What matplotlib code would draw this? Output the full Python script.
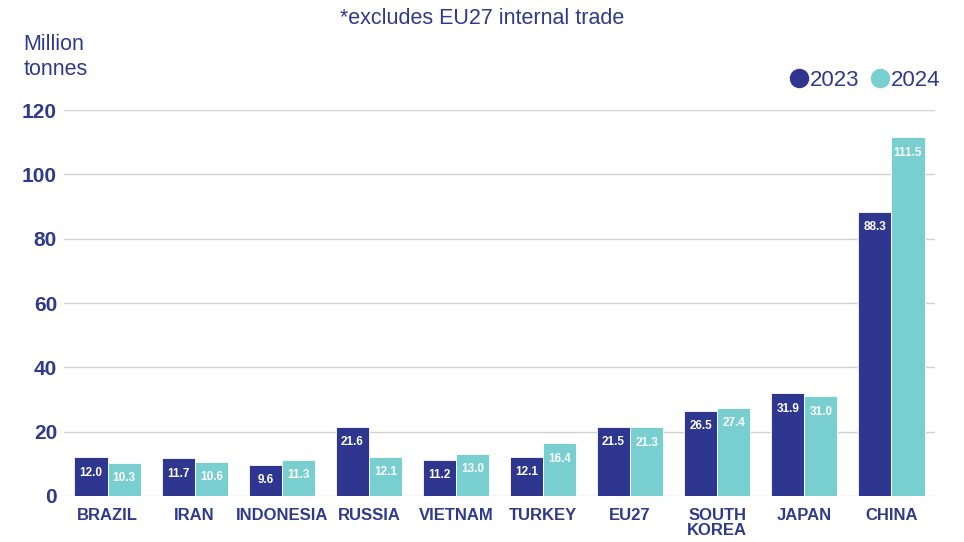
import matplotlib.pyplot as plt
from matplotlib.lines import Line2D
import numpy as np

plt.rcParams['font.family'] = ['Liberation Sans', 'DejaVu Sans']

# data
countries = ["BRAZIL", "IRAN", "INDONESIA", "RUSSIA", "VIETNAM", "TURKEY",
             "EU27", "SOUTH\nKOREA", "JAPAN", "CHINA"]
values_2023 = [12.0, 11.7, 9.6, 21.6, 11.2, 12.1, 21.5, 26.5, 31.9, 88.3]
values_2024 = [10.3, 10.6, 11.3, 12.1, 13.0, 16.4, 21.3, 27.4, 31.0, 111.5]
years = ["2023", "2024"]
y_ticks = [0, 20, 40, 60, 80, 100, 120]

navy = "#2E3690"
teal = "#79CFD0"
text_col = "#2E3A8C"

fig = plt.figure(figsize=(9.64, 5.42), dpi=100)
ax = fig.add_axes([0.0664, 0.0849, 0.9035, 0.712])

x = np.arange(len(countries))
w = 0.38
bars1 = ax.bar(x - w / 2, values_2023, width=w, color=navy,
               edgecolor="white", linewidth=0.6, zorder=3)
bars2 = ax.bar(x + w / 2, values_2024, width=w, color=teal,
               edgecolor="white", linewidth=0.6, zorder=3)

for bars, vals in ((bars1, values_2023), (bars2, values_2024)):
    for b, v in zip(bars, vals):
        ax.annotate(f"{v:.1f}", (b.get_x() + b.get_width() / 2, v),
                    xytext=(0, -11), textcoords="offset points",
                    ha="center", va="center", color="white",
                    fontsize=8.5, fontweight="bold", zorder=4)

ax.set_xlim(-0.5, 9.5)
ax.set_ylim(0, 120)
ax.set_yticks(y_ticks)
ax.set_xticks(x)
ax.set_xticklabels(countries, linespacing=1.0)
ax.tick_params(axis="y", length=0, pad=5, labelsize=15, labelcolor=text_col)
ax.tick_params(axis="x", length=0, pad=9, labelsize=12, labelcolor=text_col)
for lbl in ax.get_xticklabels() + ax.get_yticklabels():
    lbl.set_fontweight("bold")
for lbl in ax.get_xticklabels():
    lbl.set_verticalalignment("top")

ax.grid(axis="y", color="#D0D0D0", linewidth=1, zorder=0)
for s in ax.spines.values():
    s.set_visible(False)

fig.text(0.5, 0.966, "*excludes EU27 internal trade", ha="center", va="center",
         fontsize=15.5, color=text_col)
fig.text(0.024, 0.895, "Million\ntonnes", ha="left", va="center",
         fontsize=15.5, color=text_col, linespacing=1.2)

handles = [Line2D([], [], marker="o", linestyle="", markersize=13,
                  markerfacecolor=c, markeredgecolor=c) for c in (navy, teal)]
fig.legend(handles, years, loc="center right", bbox_to_anchor=(0.996, 0.852),
           ncol=2, frameon=False, fontsize=16, labelcolor=text_col,
           handletextpad=0.0, columnspacing=0.4, handlelength=1.0)

fig.savefig("out.png", dpi=100)
